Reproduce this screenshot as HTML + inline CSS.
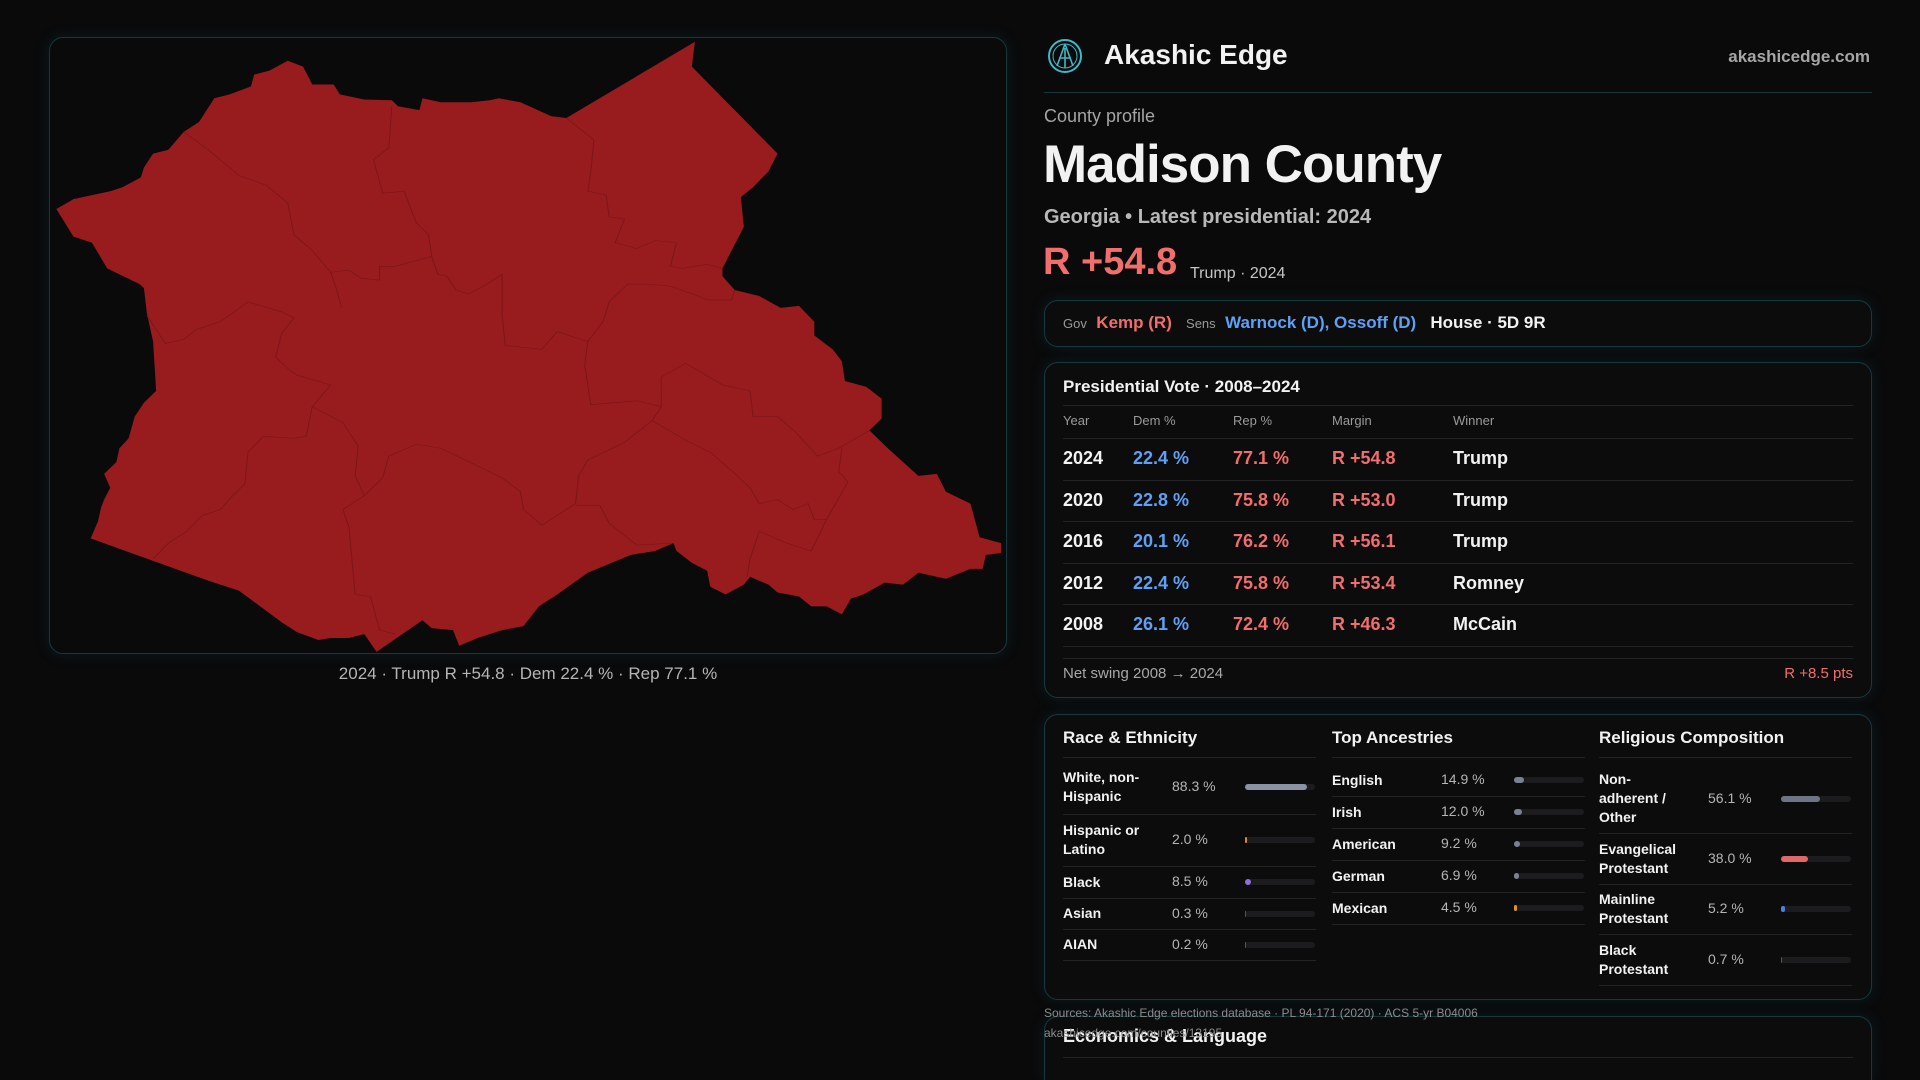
<!DOCTYPE html>
<html><head><meta charset="utf-8">
<style>
*{box-sizing:border-box;margin:0;padding:0}
html{width:1920px;height:1080px;overflow:hidden}
body{width:1920px;height:1080px;background:#0a0a0b;font-family:"Liberation Sans",sans-serif;color:#f2f2f2;position:relative;overflow:hidden}
.abs{position:absolute;white-space:nowrap}
.panel{position:absolute;border:1px solid #143a40;border-radius:14px;background:#0c0c0d;box-shadow:0 0 14px rgba(20,80,90,0.25)}
.red{color:#f26d6d}.blue{color:#5fa0f5}.grey{color:#a8a8a8}
.sep{position:absolute;height:1px;background:#232325}
.bar-bg{position:absolute;height:6px;border-radius:3px;background:#1c1c1f}
.bar-fg{position:absolute;left:0;top:0;height:6px;border-radius:3px}
</style></head><body>

<div class="panel" style="left:49px;top:37px;width:958px;height:617px;background:#0a0a0b"></div>
<svg style="position:absolute;left:49px;top:37px" width="960" height="620" viewBox="0 0 1568 1568" preserveAspectRatio="none">
<polygon fill="#981b1e" points="12,435 40,410 70,400 100,390 120,380 150,355 155,330 170,295 195,285 220,240 245,215 270,155 295,145 330,125 335,95 360,85 390,60 415,75 430,120 465,120 475,145 515,158 560,160 570,175 605,185 610,155 640,165 690,165 720,160 735,155 770,165 820,200 845,205 1055,12 1050,75 1190,295 1175,340 1150,380 1130,405 1135,480 1100,585 1100,605 1120,640 1160,655 1195,685 1225,680 1250,720 1250,755 1280,790 1295,820 1300,870 1335,885 1360,915 1360,965 1340,995 1370,1040 1420,1110 1450,1105 1465,1150 1505,1180 1520,1265 1555,1280 1555,1305 1530,1310 1525,1345 1505,1345 1465,1370 1420,1355 1395,1385 1365,1380 1330,1410 1310,1420 1295,1460 1270,1440 1245,1440 1225,1415 1190,1405 1175,1385 1145,1365 1135,1385 1105,1410 1080,1390 1075,1350 1050,1330 1025,1300 1020,1280 990,1300 950,1310 880,1355 830,1410 800,1440 775,1490 740,1500 700,1520 670,1540 660,1500 625,1495 610,1475 535,1555 515,1510 490,1520 460,1520 440,1525 405,1505 380,1480 310,1400 260,1375 170,1325 68,1268 80,1225 85,1190 90,1170 100,1140 90,1105 110,1075 115,1040 130,1015 140,960 155,925 175,895 170,770 160,700 155,635 148,625 95,585 70,520 40,505"/>
<g fill="none" stroke="#7a1518" stroke-width="1.5">
<polyline points="220,240 260,285 310,350 355,375 390,420 400,500 430,540 460,595 470,640 478,685"/>
<polyline points="560,175 555,280 530,310 545,395 580,390 600,470 620,500 625,555 565,580 540,580 540,615 510,610 490,590 460,595"/>
<polyline points="845,205 890,260 885,340 880,390 910,400 915,455 940,460 925,520 960,535 990,515 1025,520 1015,580 1035,585 1075,575 1100,585"/>
<polyline points="625,555 635,600 650,605 665,640 685,650 710,630 740,600 740,700 745,780 805,790 830,745 880,770 905,720 915,670 945,625 975,625 1015,630 1060,655 1075,665 1115,665 1120,640"/>
<polyline points="880,770 875,830 885,930 960,920 1000,935 1000,860 1040,825 1100,880 1145,895 1150,960 1190,960 1220,1000 1255,1060 1290,1040 1340,995"/>
<polyline points="160,705 190,775 220,765 240,740 280,720 325,670 380,695 400,710 380,750 370,810 395,845 405,855 460,880 430,935 420,1010 400,1015 350,1010 325,1050 320,1130 300,1160 280,1195 250,1210 225,1250 195,1280 170,1320"/>
<polyline points="430,935 480,975 505,1035 500,1110 515,1160 480,1195 490,1240 500,1410 525,1415 540,1500 565,1510"/>
<polyline points="515,1160 545,1115 555,1060 600,1030 640,1040 700,1085 740,1115 770,1150 775,1195 805,1235 830,1210 860,1180 865,1110 880,1070 940,1025 985,970 1000,935"/>
<polyline points="860,1185 900,1185 915,1230 960,1285 1020,1280"/>
<polyline points="985,970 1040,1020 1080,1050 1110,1090 1145,1140 1160,1180 1190,1170 1215,1195 1240,1180 1250,1220 1270,1220 1305,1125 1290,1100 1295,1040"/>
<polyline points="1160,1250 1205,1280 1245,1300 1270,1220"/>
<polyline points="1160,1250 1145,1320 1140,1365"/>
</g></svg>
<div class="abs grey" style="left:0;width:1056px;text-align:center;top:664px;font-size:17px;color:#b5b5b5">2024 · Trump R +54.8 · Dem 22.4 % · Rep 77.1 %</div>

<svg class="abs" style="left:1047px;top:38px" width="36" height="36" viewBox="0 0 36 36"><circle cx="18" cy="18" r="16" fill="none" stroke="#3fb8c8" stroke-width="2"/><circle cx="18" cy="18" r="12" fill="none" stroke="#3fb8c8" stroke-width="1"/><path d="M18 6 L10 28 M18 6 L26 28 M12 20 L24 20 M18 10 L18 30" stroke="#3fb8c8" stroke-width="1.6" fill="none"/></svg>
<div class="abs" style="left:1104px;top:39px;font-size:28px;font-weight:bold">Akashic Edge</div>
<div class="abs" style="left:1700px;width:170px;text-align:right;top:47px;font-size:17px;font-weight:bold;color:#a6a6a6">akashicedge.com</div>
<div class="sep" style="left:1044px;top:92px;width:828px;background:#16383d"></div>
<div class="abs grey" style="left:1044px;top:106px;font-size:18px;color:#a5a5a5">County profile</div>
<div class="abs" style="left:1043px;top:134px;font-size:53px;font-weight:bold;letter-spacing:-1px">Madison County</div>
<div class="abs" style="left:1044px;top:206px;font-size:20px;font-weight:bold;color:#b8b8b8">Georgia • Latest presidential: 2024</div>
<div class="abs red" style="left:1043px;top:241px;font-size:38px;font-weight:bold">R +54.8</div>
<div class="abs" style="left:1190px;top:265px;font-size:16px;color:#c5c5c5">Trump · 2024</div>

<div class="panel" style="left:1044px;top:300px;width:828px;height:47px"></div>
<div class="abs" style="left:1063px;top:313px;font-size:17px;font-weight:bold">
<span style="font-size:13px;color:#9a9a9a;font-weight:normal">Gov</span>&nbsp; <span class="red">Kemp (R)</span>&nbsp;&nbsp; <span style="font-size:13px;color:#9a9a9a;font-weight:normal">Sens</span>&nbsp; <span class="blue">Warnock (D), Ossoff (D)</span>&nbsp;&nbsp; <span>House · 5D 9R</span></div>

<div class="panel" style="left:1044px;top:362px;width:828px;height:336px"></div>
<div class="abs" style="left:1063px;top:377px;font-size:17px;font-weight:bold">Presidential Vote · 2008–2024</div>
<div class="sep" style="left:1063px;top:405px;width:790px"></div>
<div id="pres"></div>
<div class="sep" style="left:1063px;top:658px;width:790px"></div>
<div class="abs" style="left:1063px;top:665px;font-size:15px;color:#a8a8a8">Net swing 2008 → 2024</div>
<div class="abs red" style="left:1720px;width:133px;text-align:right;top:665px;font-size:15px">R +8.5 pts</div>

<div class="panel" style="left:1044px;top:714px;width:828px;height:286px"></div>
<div id="demo"></div>

<div class="panel" style="left:1044px;top:1016px;width:828px;height:64px;border-bottom:none;border-radius:14px 14px 0 0"></div>
<div class="abs" style="left:1063px;top:1026px;font-size:18px;font-weight:bold">Economics &amp; Language</div>
<div class="sep" style="left:1063px;top:1057px;width:790px"></div>
<div class="abs" style="left:1044px;top:1006px;font-size:12px;color:#8c8c8c">Sources: Akashic Edge elections database · PL 94-171 (2020) · ACS 5-yr B04006</div>
<div class="abs" style="left:1044px;top:1026px;font-size:12px;color:#8c8c8c">akashicedge.com/counties/13195</div>

<script>
const years=["2024","2020","2016","2012","2008"];
const demPct=[22.4,22.8,20.1,22.4,26.1];
const repPct=[77.1,75.8,76.2,75.8,72.4];
const margins=[54.8,53.0,56.1,53.4,46.3];
const winners=["Trump","Trump","Trump","Romney","McCain"];
const raceLabels=["White, non-<br>Hispanic","Hispanic or<br>Latino","Black","Asian","AIAN"];
const raceValues=[88.3,2.0,8.5,0.3,0.2];
const ancLabels=["English","Irish","American","German","Mexican"];
const ancValues=[14.9,12.0,9.2,6.9,4.5];
const relLabels=["Non-<br>adherent /<br>Other","Evangelical<br>Protestant","Mainline<br>Protestant","Black<br>Protestant"];
const relValues=[56.1,38.0,5.2,0.7];

function mk(parent,html,style,name,inter){
  const d=document.createElement('div');
  d.className='abs';d.innerHTML=html;d.style.cssText=style;
  
  
  parent.appendChild(d);return d;
}
const pres=document.getElementById('pres');
const cols=[1063,1133,1233,1332,1453];
["Year","Dem %","Rep %","Margin","Winner"].forEach((h,i)=>{
  mk(pres,h,`left:${cols[i]}px;top:413px;font-size:13px;color:#9a9a9a`,'table-header-'+h.toLowerCase().replace(/[^a-z]/g,''),false);
});
const rowY=i=>448+i*41.5;
years.forEach((y,i)=>{
  const t=rowY(i);
  const ln=document.createElement('div');ln.className='sep';ln.style.cssText=`left:1063px;top:${t-10}px;width:790px`;
  
  
  pres.appendChild(ln);
  const f='font-size:18px;font-weight:bold;top:'+t+'px;';
  mk(pres,y,f+`left:${cols[0]}px`,'year-'+y,false);
  mk(pres,demPct[i].toFixed(1)+' %',f+`left:${cols[1]}px;color:#5fa0f5`,'dem-pct-'+y,false);
  mk(pres,repPct[i].toFixed(1)+' %',f+`left:${cols[2]}px;color:#f26d6d`,'rep-pct-'+y,false);
  mk(pres,'R +'+margins[i].toFixed(1),f+`left:${cols[3]}px;color:#f26d6d`,'margin-'+y,false);
  mk(pres,winners[i],f+`left:${cols[4]}px`,'winner-'+y,false);
});
const ln2=document.createElement('div');ln2.className='sep';ln2.style.cssText='left:1063px;top:646px;width:790px';


pres.appendChild(ln2);

const demo=document.getElementById('demo');
function section(title,x,labels,values,colors,rowTops,rowHeights,key){
  mk(demo,title,`left:${x}px;top:728px;font-size:17px;font-weight:bold`,key+'-title',false);
  const s=document.createElement('div');s.className='sep';s.style.cssText=`left:${x}px;top:757px;width:253px`;
  
  
  demo.appendChild(s);
  labels.forEach((l,i)=>{
    const top=rowTops[i],h=rowHeights[i],c=top+h/2;
    const lines=l.split('<br>').length;
    mk(demo,l,`left:${x}px;top:${c-lines*9.5}px;font-size:14px;font-weight:bold;line-height:19px`,key+'-label-'+i,false);
    mk(demo,values[i].toFixed(1)+' %',`left:${x+109}px;top:${c-9}px;font-size:14px;color:#b5b5b5`,key+'-value-'+i,false);
    const bg=document.createElement('div');bg.className='bar-bg';bg.style.cssText=`left:${x+182}px;top:${c-3}px;width:70px`;
    
    
    const fg=document.createElement('div');fg.className='bar-fg';
    fg.style.width=Math.max(values[i]/100*70,values[i]>=1?2:0)+'px';fg.style.background=colors[i];
    
    
    bg.appendChild(fg);demo.appendChild(bg);
    const d=document.createElement('div');d.className='sep';d.style.cssText=`left:${x}px;top:${top+h}px;width:253px`;
    
    
    demo.appendChild(d);
  });
}
section('Race & Ethnicity',1063,raceLabels,raceValues,['#8a93a3','#e08a1e','#8c6ee0','#555','#555'],[760,814,866,898,929],[54,52,32,31,31],'race');
section('Top Ancestries',1332,ancLabels,ancValues,['#7a8290','#7a8290','#7a8290','#7a8290','#e0921e'],[764,796,828,860,892],[32,32,32,32,32],'ancestry');
section('Religious Composition',1599,relLabels,relValues,['#6e7482','#e06868','#4a80e8','#555'],[764,833,884,934],[69,51,50,51],'religion');
</script>
</body></html>
